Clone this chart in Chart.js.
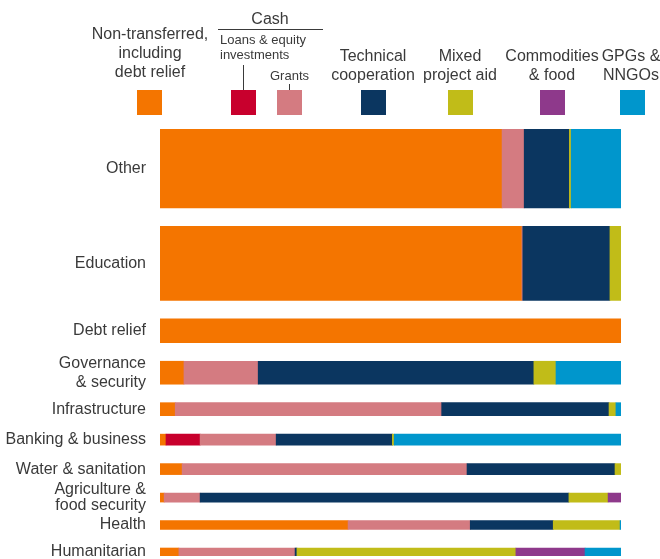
<!DOCTYPE html>
<html>
<head>
<meta charset="utf-8">
<script src="https://cdn.jsdelivr.net/npm/chart.js@4.4.1/dist/chart.umd.min.js"></script>
<style>
  body { margin: 0; background: #fff; }
  #wrap { position: relative; width: 660px; height: 559px; overflow: hidden;
          font-family: "Liberation Sans", Arial, sans-serif; color: #3a3a3a; }
  #wrap canvas { display: block; }
  .key { position: absolute; font-size: 16px; line-height: 19px; text-align: center;
         white-space: nowrap; transform: translateX(-50%); }
  .key.small { font-size: 13px; line-height: 15px; text-align: left; transform: none; }
  .rule { position: absolute; background: #3a3a3a; }
  .swatch { position: absolute; top: 90px; width: 25px; height: 25px; }
</style>
</head>
<body>
<div id="wrap">
  <canvas id="chart" width="660" height="559"></canvas>
  <div class="key" style="left:150px; top:24px">Non-transferred,<br>including<br>debt relief</div>
  <div class="key" style="left:270px; top:9px">Cash</div>
  <div class="rule" style="left:218px; top:29px; width:105px; height:1px"></div>
  <div class="key small" style="left:220px; top:32px">Loans &amp; equity<br>investments</div>
  <div class="key small" style="left:270px; top:68px">Grants</div>
  <div class="rule" style="left:243px; top:65px; width:1px; height:25px"></div>
  <div class="rule" style="left:289px; top:84px; width:1px; height:6px"></div>
  <div class="key" style="left:373px; top:46px">Technical<br>cooperation</div>
  <div class="key" style="left:460px; top:46px">Mixed<br>project aid</div>
  <div class="key" style="left:552px; top:46px">Commodities<br>&amp; food</div>
  <div class="key" style="left:631px; top:46px">GPGs &amp;<br>NNGOs</div>
</div>
<script>
const categories = ['Other', 'Education', 'Debt relief', ['Governance', '& security'], 'Infrastructure',
  'Banking & business', 'Water & sanitation', ['Agriculture &', 'food security'], 'Health', 'Humanitarian'];

// relative size of each sector (sets the bar height)
const sectorVolume = [79, 74, 24, 23, 13, 11, 11, 9, 9, 8];

// share of each sector (%) by delivery type
const nonTransferred  = [74.2, 78.5, 100, 5.2, 3.3, 1.3, 4.8, 0.9, 40.8, 4.1];
const cashLoans       = [0, 0, 0, 0, 0, 7.4, 0, 0, 0, 0];
const cashGrants      = [4.8, 0.2, 0, 16.1, 57.8, 16.5, 61.8, 7.8, 26.5, 25.2];
const technicalCoop   = [9.8, 18.9, 0, 59.8, 36.3, 25.2, 32.1, 80.0, 18.0, 0.4];
const mixedProjectAid = [0.4, 2.4, 0, 4.8, 1.5, 0.4, 1.3, 8.5, 14.5, 47.5];
const commodities     = [0, 0, 0, 0, 0, 0, 0, 2.8, 0, 15.0];
const gpgsNngos       = [10.8, 0, 0, 14.1, 1.1, 49.2, 0, 0, 0.2, 7.8];

const series = [nonTransferred, cashLoans, cashGrants, technicalCoop, mixedProjectAid, commodities, gpgsNngos];
const colors = ['#f47500', '#c8002d', '#d47b81', '#0b3660', '#c1bc18', '#8e398b', '#0096cc'];
const swatchLeft = [137, 231, 277, 361, 448, 540, 620];

const GAP = 18.5; // space between bars, in the same units as sectorVolume
const FONT = '"Liberation Sans", Arial, sans-serif';

// legend swatches
colors.forEach((c, j) => {
  const d = document.createElement('div');
  d.className = 'swatch';
  d.style.left = swatchLeft[j] + 'px';
  d.style.background = c;
  document.getElementById('wrap').appendChild(d);
});

// centre of every bar on the y scale
const centres = [];
let pos = 0;
sectorVolume.forEach(v => { centres.push(pos + v / 2); pos += v + GAP; });
const yMax = pos - GAP;

// one dataset per sector, each delivery type a floating piece of it
const datasets = categories.map((cat, i) => {
  const data = [], bg = [];
  let start = 0;
  series.forEach((s, j) => {
    if (s[i] > 0) {
      data.push({ y: centres[i], x: [start, start + s[i]] });
      bg.push(colors[j]);
    }
    start += s[i];
  });
  return { label: [].concat(cat).join(' '), data, backgroundColor: bg, borderWidth: 0,
           grouped: false, barThickness: sectorVolume[i] };
});

// bar height follows the sector volume through the y scale
const volumeHeights = {
  id: 'volumeHeights',
  afterLayout(chart) {
    const y = chart.scales.y;
    const unit = Math.abs(y.getPixelForValue(1) - y.getPixelForValue(0));
    chart.data.datasets.forEach((ds, i) => { ds.barThickness = sectorVolume[i] * unit; });
  }
};

const chart = new Chart(document.getElementById('chart'), {
  type: 'bar',
  data: { datasets },
  plugins: [volumeHeights],
  options: {
    indexAxis: 'y',
    responsive: false,
    animation: false,
    layout: { padding: { top: 129, right: 39, bottom: 3, left: 0 } },
    plugins: { legend: { display: false }, tooltip: { enabled: false } },
    scales: {
      x: { type: 'linear', min: 0, max: 100, display: false },
      y: {
        type: 'linear', reverse: true, min: 0, max: yMax, offset: false,
        afterBuildTicks: axis => { axis.ticks = centres.map(v => ({ value: v })); },
        afterFit: axis => { axis.width = 160; axis.paddingTop = 0; axis.paddingBottom = 0; },
        grid: { display: false, drawTicks: false, offset: false },
        border: { display: false },
        ticks: {
          autoSkip: false,
          padding: 14,
          color: '#3a3a3a',
          font: ctx => ({ family: FONT, size: 16, lineHeight: ctx.index === 7 ? 0.95 : 1.2 }),
          callback: (v, i) => categories[i]
        }
      }
    }
  }
});
chart.update();
</script>
</body>
</html>
